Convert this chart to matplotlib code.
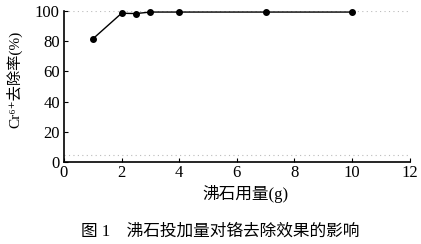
import matplotlib
matplotlib.use("Agg")
import matplotlib.pyplot as plt

zeolite_g = [1, 2, 2.5, 3, 4, 7, 10]
removal_pct = [81.5, 98.5, 98.3, 99.3, 99.3, 99.3, 99.3]
x_ticks = [0, 2, 4, 6, 8, 10, 12]
y_ticks = [0, 20, 40, 60, 80, 100]

fam = ['Liberation Serif', 'DejaVu Serif', 'Noto Sans CJK SC']
plt.rcParams['font.family'] = fam

fig = plt.figure(figsize=(4.21, 2.44), dpi=100)
ax = fig.add_axes([64/421, 1-162/244, (409.5-64)/421, (162-11)/244])

ax.plot(zeolite_g, removal_pct, color='black', lw=1.0, marker='o', ms=4,
        mfc='black', mec='black', clip_on=False)

ax.set_xlim(0, 12)
ax.set_ylim(0, 100)
ax.set_xticks(x_ticks)
ax.set_yticks(y_ticks)
ax.tick_params(axis='x', direction='in', length=3, width=0.8, labelsize=12, pad=2)
ax.tick_params(axis='y', direction='in', length=3, width=0.8, labelsize=12, pad=3)
for s in ['top', 'right']:
    ax.spines[s].set_visible(False)
for s in ['left', 'bottom']:
    ax.spines[s].set_linewidth(1.2)

ax.axhline(100, color='#bbbbbb', lw=0.8, ls=(0, (1, 3)), zorder=0)
ax.axhline(4.5, color='#bbbbbb', lw=0.8, ls=(0, (1, 3)), zorder=0)

ax.set_xlabel('沸石用量(g)', fontsize=12)
ax.xaxis.set_label_coords(0.524, -0.155)
ax.set_ylabel('Cr⁶⁺去除率(%)', fontsize=11)
ax.yaxis.set_label_coords(-0.12, 0.55)

fig.text(220/421, 1-232/244, '图 1    沸石投加量对铬去除效果的影响', ha='center', va='center',
         fontsize=12)

fig.savefig('out.png', dpi=100)
